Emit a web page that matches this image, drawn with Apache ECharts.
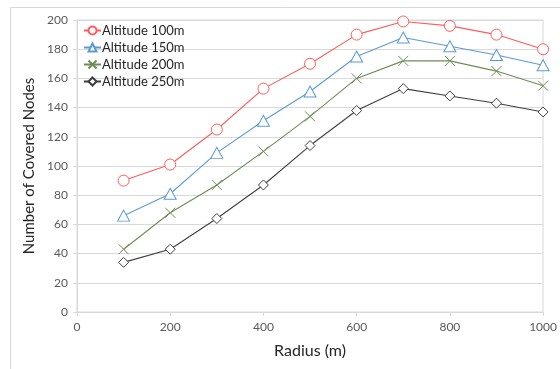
<!DOCTYPE html>
<html><head><meta charset="utf-8">
<script src="https://cdn.jsdelivr.net/npm/echarts@6/dist/echarts.min.js"></script>
<style>html,body{margin:0;padding:0;background:#fff}#c{width:560px;height:369px}</style>
</head><body><div id="c"></div>
<script>
const radius = [100, 200, 300, 400, 500, 600, 700, 800, 900, 1000];
const alt100 = [90, 101, 125, 153, 170, 190, 199, 196, 190, 180];
const alt150 = [66, 81, 109, 131, 151, 175, 188, 182, 176, 169];
const alt200 = [43, 68, 87, 110, 134, 160, 172, 172, 165, 155];
const alt250 = [34, 43, 64, 87, 114, 138, 153, 148, 143, 137];
const seriesNames = ['Altitude 100m', 'Altitude 150m', 'Altitude 200m', 'Altitude 250m'];
const xTicks = [0, 200, 400, 600, 800, 1000];
const yTicks = [0, 20, 40, 60, 80, 100, 120, 140, 160, 180, 200];

const colors = ['#ff5b5b', '#5b9bd5', '#6e8c57', '#3f3f3f'];
const symbols = ['circle', 'path://M5,0L10,9L0,9Z', 'path://M0,0L10,10M10,0L0,10', 'path://M5,0L10,5L5,10L0,5Z'];
const sizes = [11, [12, 11], 10, [10, 10]];
const all = [alt100, alt150, alt200, alt250];
const font = 'Lato, "Liberation Sans", sans-serif';

const chart = echarts.init(document.getElementById('c'), null, {renderer: 'canvas'});
chart.setOption({
  animation: false,
  graphic: [{type: 'rect', shape: {x: 10.5, y: 7.5, width: 600, height: 400}, style: {fill: 'none', stroke: '#d9d9d9', lineWidth: 1}, silent: true, z: -1}],
  grid: {left: 77, right: 15, top: 20, bottom: 57, show: true, borderColor: '#d9d9d9', borderWidth: 1},
  legend: {
    orient: 'vertical', left: 78, top: 19, itemGap: 4, itemWidth: 17, itemHeight: 10,
    data: seriesNames,
    textStyle: {fontFamily: font, fontSize: 13, color: '#262626', padding: [0, 0, 0, -4]}
  },
  xAxis: {
    type: 'value', min: 0, max: 1000, interval: 200,
    name: 'Radius (m)', nameLocation: 'middle', nameGap: 31,
    nameTextStyle: {fontFamily: font, fontSize: 16, color: '#262626'},
    axisLine: {show: true, lineStyle: {color: '#d9d9d9'}},
    axisTick: {show: true, length: 4, lineStyle: {color: '#d9d9d9'}},
    axisLabel: {fontFamily: font, fontSize: 12, color: '#595959', margin: 9, formatter: v => xTicks.includes(v) ? String(v) : ''},
    splitLine: {show: false}
  },
  yAxis: {
    type: 'value', min: 0, max: 200, interval: 20,
    name: 'Number of Covered Nodes', nameLocation: 'middle', nameGap: 39, nameRotate: 90,
    nameTextStyle: {fontFamily: font, fontSize: 15, color: '#262626'},
    axisLine: {show: true, lineStyle: {color: '#d9d9d9'}},
    axisTick: {show: true, length: 4, lineStyle: {color: '#d9d9d9'}},
    axisLabel: {fontFamily: font, fontSize: 12, color: '#595959', margin: 9, formatter: v => yTicks.includes(v) ? String(v) : ''},
    splitLine: {show: true, lineStyle: {color: '#d9d9d9'}}
  },
  series: all.map((d, i) => ({
    name: seriesNames[i], type: 'line',
    data: radius.map((r, k) => [r, d[k]]),
    symbol: symbols[i], symbolSize: sizes[i], showAllSymbol: true,
    lineStyle: {color: colors[i], width: 1.1},
    itemStyle: {color: i === 2 ? colors[i] : '#fff', borderColor: colors[i], borderWidth: 1},
    z: 10 - i
  }))
});
</script></body></html>
